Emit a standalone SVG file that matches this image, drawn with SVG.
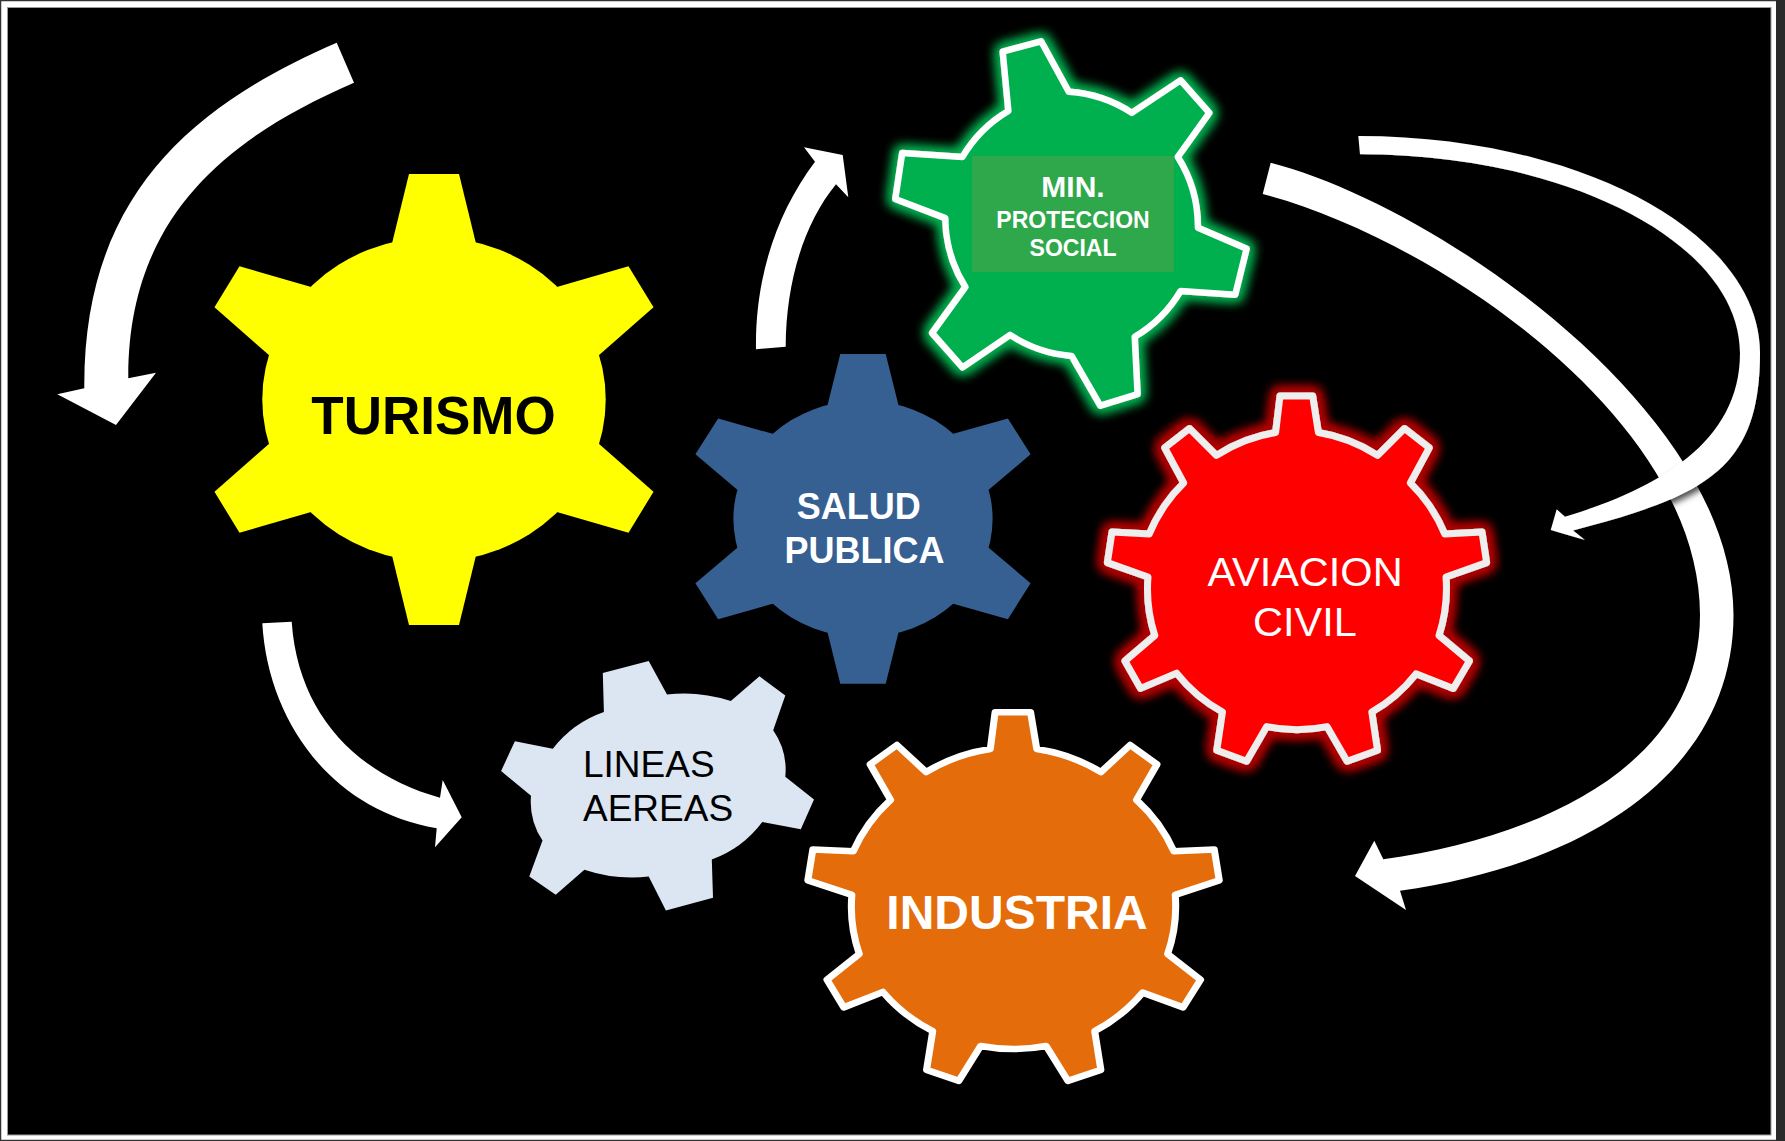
<svg xmlns="http://www.w3.org/2000/svg" xmlns:xlink="http://www.w3.org/1999/xlink" width="1785" height="1141" viewBox="0 0 1785 1141">
<style>
.arrow{fill:#ffffff;stroke:none}
.lbl{font-family:"Liberation Sans",Arial,sans-serif;text-anchor:middle}
.b{font-weight:bold}
.w{fill:#ffffff}
.k{fill:#000000}
</style>
<defs>
<filter id="glowG" x="-15%" y="-15%" width="130%" height="130%">
<feMorphology in="SourceAlpha" operator="dilate" radius="3" result="d"/>
<feGaussianBlur in="d" stdDeviation="6" result="bl"/>
<feFlood flood-color="#00B050" flood-opacity="1"/>
<feComposite in2="bl" operator="in" result="g"/>
<feMerge><feMergeNode in="g"/><feMergeNode in="g"/><feMergeNode in="SourceGraphic"/></feMerge>
</filter>
<filter id="glowR" x="-15%" y="-15%" width="130%" height="130%">
<feMorphology in="SourceAlpha" operator="dilate" radius="3" result="d"/>
<feGaussianBlur in="d" stdDeviation="6" result="bl"/>
<feFlood flood-color="#B00000" flood-opacity="1"/>
<feComposite in2="bl" operator="in" result="g"/>
<feMerge><feMergeNode in="g"/><feMergeNode in="g"/><feMergeNode in="g"/><feMergeNode in="SourceGraphic"/></feMerge>
</filter>
<filter id="shadow" x="-10%" y="-10%" width="125%" height="125%">
<feDropShadow dx="3" dy="4" stdDeviation="3" flood-color="#000000" flood-opacity="0.7"/>
</filter>
<path id="t6y" d="M-41,-150 L-23.6,-225.5 L23.6,-225.5 L41,-150 Z"/>
<g id="gear6y">
<circle r="162"/>
<use href="#t6y"/>
<use href="#t6y" transform="rotate(60)"/>
<use href="#t6y" transform="rotate(120)"/>
<use href="#t6y" transform="rotate(180)"/>
<use href="#t6y" transform="rotate(240)"/>
<use href="#t6y" transform="rotate(300)"/>
</g>
<path id="t6b" d="M-46,-148 L-28.4,-225.5 L28.4,-225.5 L46,-148 Z"/>
<g id="gear6b">
<circle r="162"/>
<use href="#t6b"/>
<use href="#t6b" transform="rotate(60)"/>
<use href="#t6b" transform="rotate(120)"/>
<use href="#t6b" transform="rotate(180)"/>
<use href="#t6b" transform="rotate(240)"/>
<use href="#t6b" transform="rotate(300)"/>
</g>
<path id="gear9" d="M1280,396.1 L1312.7,396.1 L1318.4,432.5 A152,152 0 0 1 1377.5,455.4 L1404.5,428.6 L1429.2,447.8 L1410.3,483 A152,152 0 0 1 1444.7,533.9 L1482,532 L1486.6,562.6 L1446,577 A152,152 0 0 1 1439,635.5 L1469.4,661 L1453.3,688.4 L1416,673.8 A152,152 0 0 1 1371.8,712 L1377.5,750.3 L1347.1,761.2 L1327,726.6 A152,152 0 0 1 1266.7,726.6 L1246.6,761.2 L1216.8,750.3 L1222.5,712 A152,152 0 0 1 1176.6,673.1 L1140.5,688.4 L1125,661 L1154.8,635.5 A152,152 0 0 1 1148,577 L1107.4,562.6 L1112,532 L1149.3,533.9 A152,152 0 0 1 1183.7,483 L1164.8,447.8 L1189.5,428.6 L1216.5,455.4 A152,152 0 0 1 1275.6,432.5 Z"/>
</defs>

<g id="frame">
<rect x="0" y="0" width="1785" height="1141" fill="#ffffff"/>
<rect x="0.5" y="0.5" width="1784" height="1140" fill="none" stroke="#333333" stroke-width="1.5"/>
<rect x="1776" y="0" width="9" height="1141" fill="#2a2a2a"/>
<rect x="7.5" y="7.5" width="1763.5" height="1127.5" fill="#000000" stroke="#9a9a9a" stroke-width="1"/>
</g>

<g id="connectors">
<path id="arrow-turismo-left" class="arrow" d="M336.7,42.7 C189.8,106.2 83,198 84.3,388.3 L57.3,394.3 L116,425 L156,372.7 L128.3,378.3 C127.5,218.3 225.5,138.3 354,82.7 Z"/>
<path id="arrow-salud-min" class="arrow" d="M756,349.3 C755,280 775,215 815,161.7 L804,147.3 L842.7,155 L848.3,197.3 L836,184.3 C805,222 786,280 785.7,346.7 Z"/>
<path id="arrow-turismo-lineas" class="arrow" d="M262.3,623.3 C268,720 330,810 436.7,828.3 L435,847.3 L461.7,817.3 L442.7,780 L440,797.7 C358,775 298,715 291.7,621.7 Z"/>
<path id="arrow-min-industria" class="arrow" d="M1270.7,162.7 C1435.4,204.9 1733.5,410 1733.5,615 C1733.5,765 1598,862.7 1400,890.7 L1406,910 L1355,876 L1374.3,840.7 L1383.3,859.3 C1541.7,836.9 1700,765 1700,615 C1700,415 1427.4,236.2 1262.7,194 Z"/>
<path id="arrow-min-aviacion" class="arrow" filter="url(#shadow)" d="M1358.3,136 C1580.2,136 1760,233.1 1760,353 C1760,470 1704.5,496 1573,530.5 L1585,540 L1550.7,530 L1556.7,509.3 L1565,516.7 C1656,489.4 1740,443.3 1740,353.3 C1740,243.4 1569.9,154.3 1360,154.3 Z"/>
</g>

<g id="turismo">
<use href="#gear6y" transform="translate(434,399.5) scale(1.06,1)" fill="#FFFF00"/>
<text class="lbl b k" x="433.5" y="433.6" font-size="53">TURISMO</text>
</g>

<g id="salud-publica">
<use href="#gear6b" transform="translate(863,518.8) scale(0.8,0.731)" fill="#376092"/>
<text class="lbl b w" x="858.7" y="518.6" font-size="36">SALUD</text>
<text class="lbl b w" x="864.5" y="562.6" font-size="36">PUBLICA</text>
</g>

<g id="lineas-aereas">
<path fill="#DCE6F2" d="M602.8,673.1 L648.7,661 L667,694.5 A150,150 0 0 1 730.8,701.1 L759.5,676.3 L785.3,695.6 L773.2,730.2 A70,70 0 0 1 785.3,776.8 L814,799.4 L800.8,829.3 L762.3,822 A110,110 0 0 1 711.8,859.5 L713,897.7 L665.9,910.5 L648.7,876.6 A150,150 0 0 1 584.4,869.7 L555.7,894.8 L529.3,876.6 L542.5,840.6 A70,70 0 0 1 531,795.8 L501.1,771 L514.9,741.2 L552.8,748.8 A110,110 0 0 1 603.9,712 Z"/>
<text class="k" x="583" y="776.5" font-size="37" font-family="'Liberation Sans',Arial,sans-serif">LINEAS</text>
<text class="k" x="583" y="821" font-size="37" font-family="'Liberation Sans',Arial,sans-serif">AEREAS</text>
</g>

<g id="min-proteccion-social">
<path filter="url(#glowG)" fill="#00B050" stroke="#ffffff" stroke-width="6.5" stroke-linejoin="round" d="M1002.7,51.7 L1041.1,41.3 L1068.7,91.8 A130,130 0 0 1 1131.8,112.9 L1180.6,80.4 L1209.3,112.9 L1177.8,156.9 A130,130 0 0 1 1197.9,227.7 L1246.6,248.8 L1235.2,294.7 L1180.6,290.9 A130,130 0 0 1 1134.7,336.8 L1137.6,394.2 L1100.3,405.7 L1071.6,355.9 A130,130 0 0 1 1010.1,334.9 L962.5,367.4 L932.1,333 L965.4,287 A130,130 0 0 1 945.3,218.1 L895.3,199 L902.2,153.1 L962.5,156.9 A130,130 0 0 1 1008.4,111 Z"/>
<rect x="972" y="156" width="202" height="116" fill="#2FA84B"/>
<text class="lbl b w" x="1073" y="197" font-size="30">MIN.</text>
<text class="lbl b w" x="1073" y="227.7" font-size="23">PROTECCION</text>
<text class="lbl b w" x="1073" y="255.6" font-size="23">SOCIAL</text>
</g>

<g id="aviacion-civil">
<use href="#gear9" filter="url(#glowR)" fill="#FF0000" stroke="#EEEEEE" stroke-width="7" stroke-linejoin="round"/>
<text class="lbl w" x="1305" y="585.5" font-size="41.5">AVIACION</text>
<text class="lbl w" x="1305" y="635.5" font-size="41.5">CIVIL</text>
</g>

<g id="industria">
<use href="#gear9" transform="matrix(1.085 0 0 1.01 -393.7 312.1)" fill="#E46C0A" stroke="#ffffff" stroke-width="6.5" stroke-linejoin="round"/>
<text class="lbl b w" x="1017" y="928.7" font-size="48">INDUSTRIA</text>
</g>
</svg>
